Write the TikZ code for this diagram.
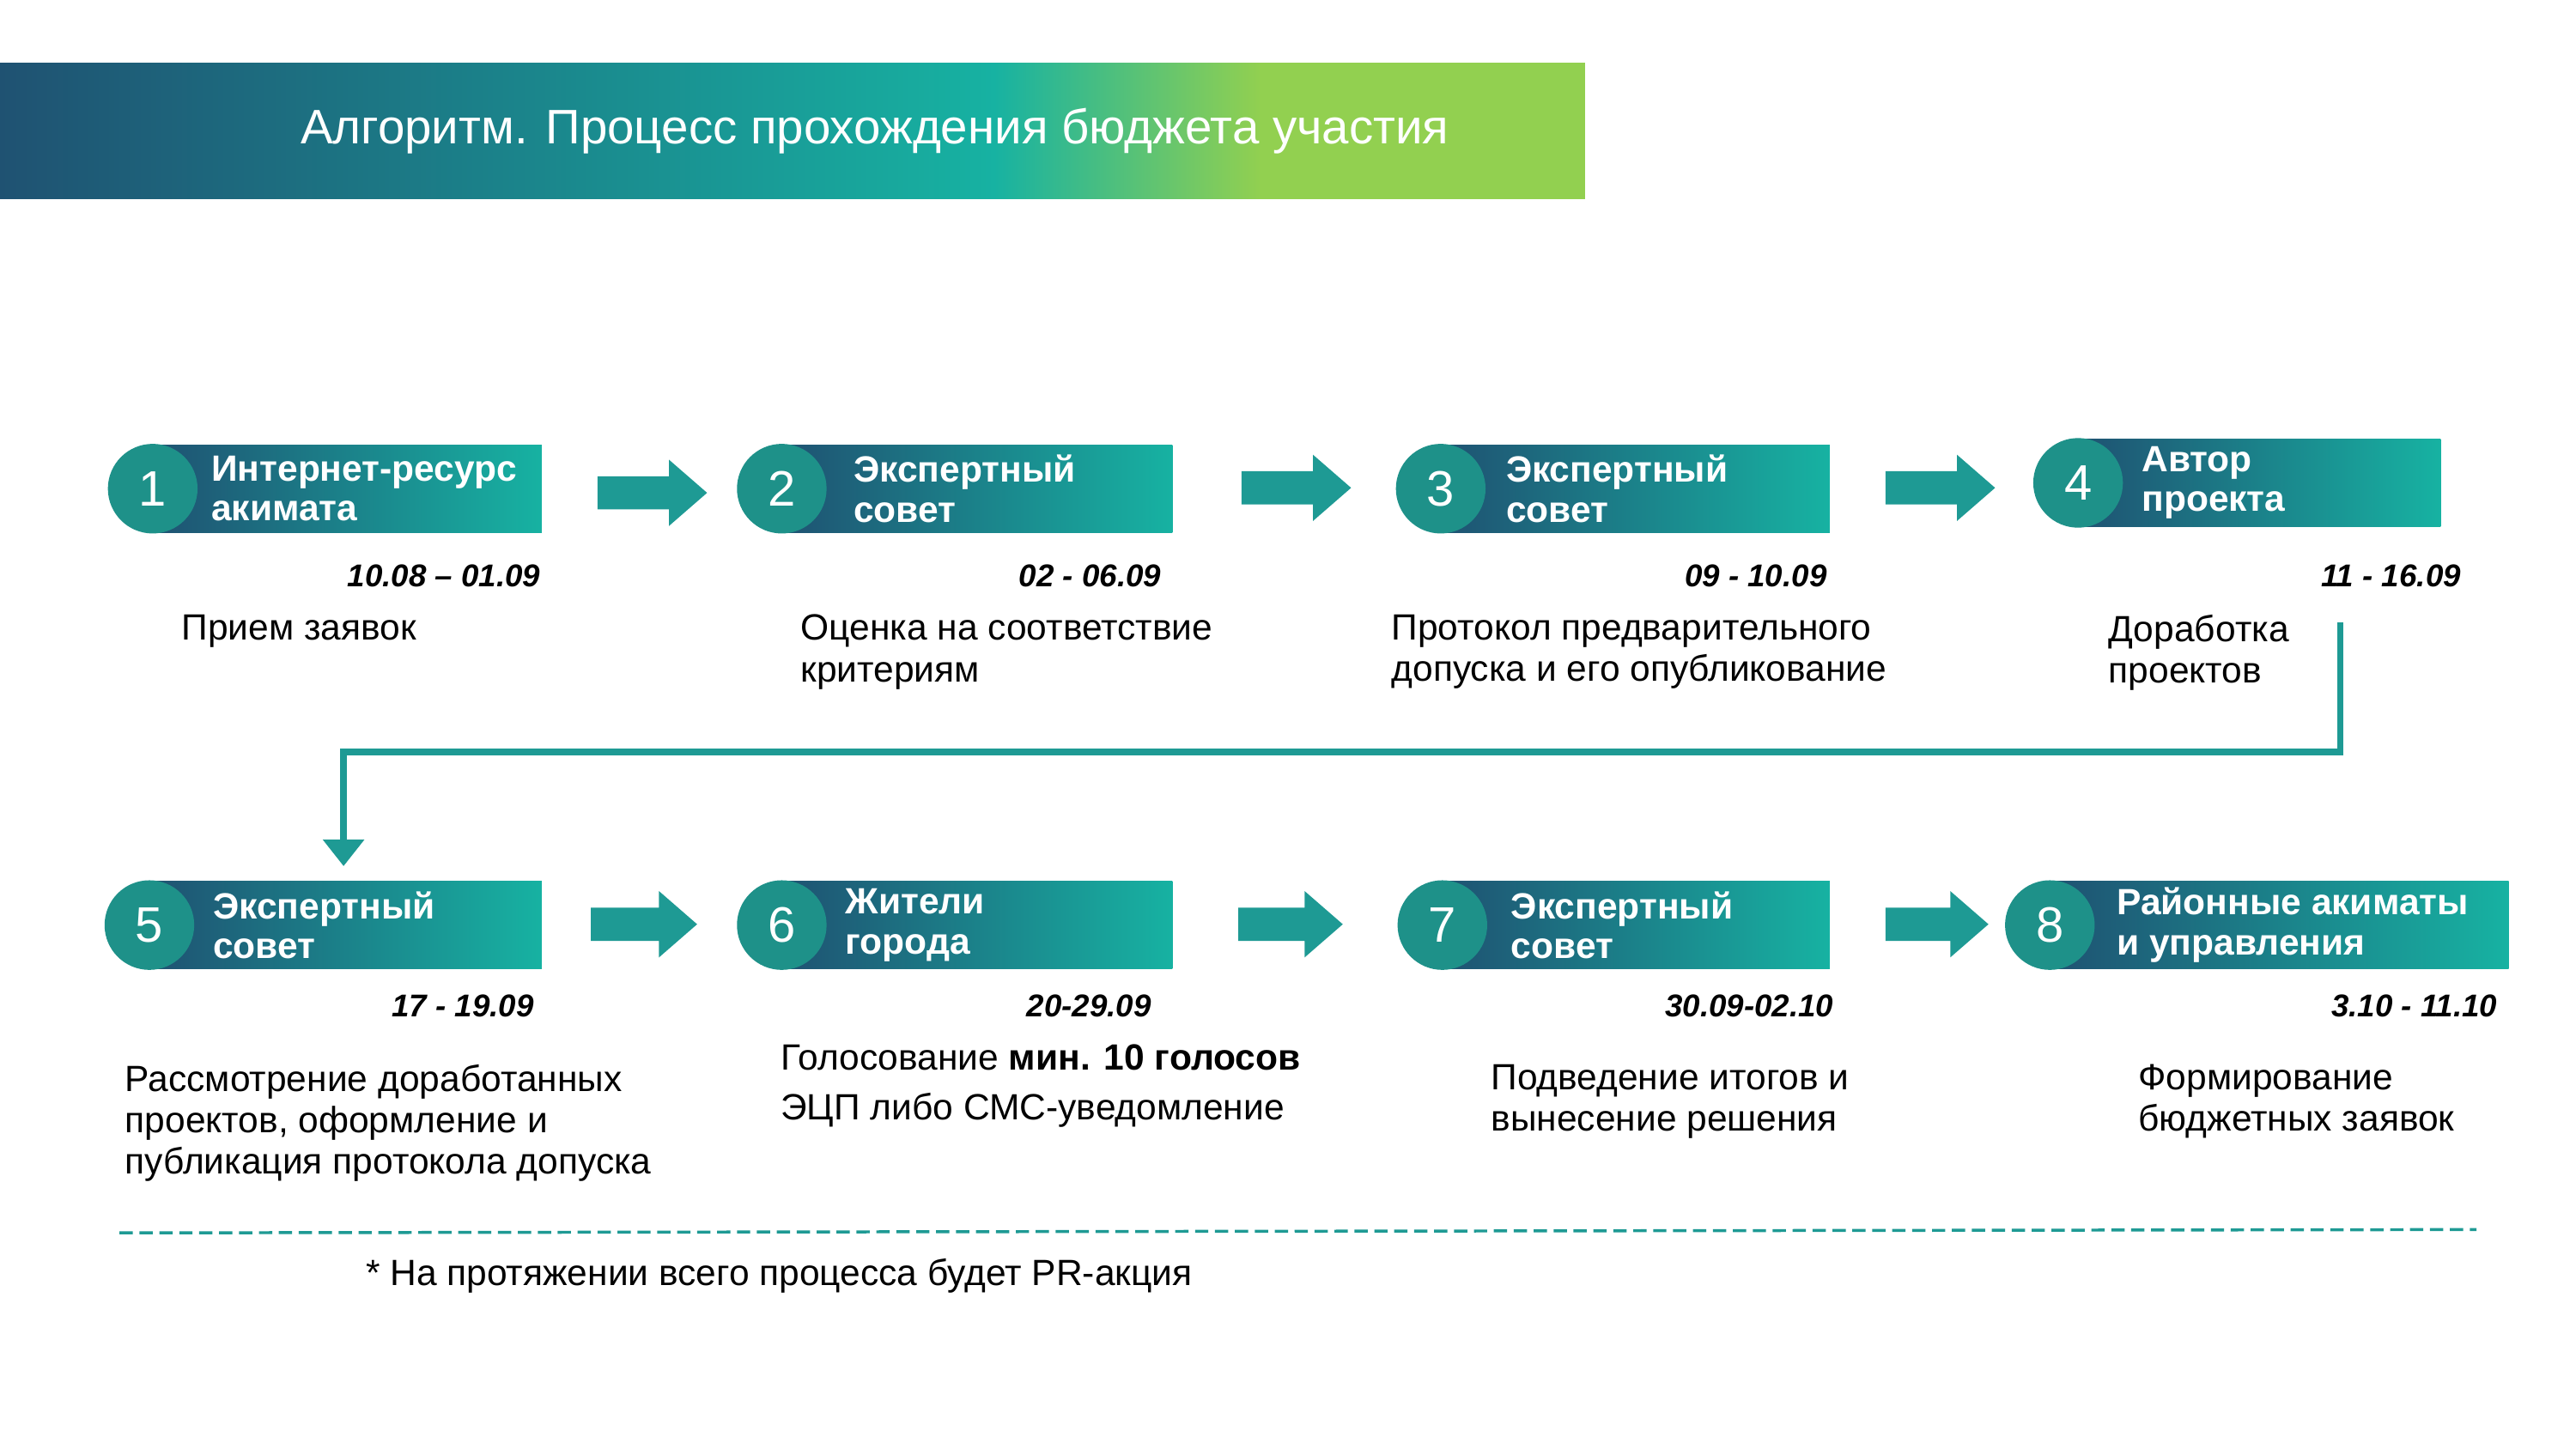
\documentclass[tikz,border=0pt]{standalone}
\usepackage{fontspec}
\setmainfont{Liberation Sans}
\usetikzlibrary{arrows.meta}
\definecolor{dblue}{HTML}{1F5272}
\definecolor{tealc}{HTML}{17B2A2}
\definecolor{greenc}{HTML}{92D050}
\definecolor{circc}{HTML}{1E9189}
\definecolor{arrc}{HTML}{1E9A94}
\tikzset{
 bar/.style={minimum height=26.5pt,inner sep=0pt,left color=dblue,right color=tealc,anchor=west},
 num/.style={circle,fill=circc,minimum size=27pt,inner sep=0pt,text=white,font=\fontsize{15}{15}\selectfont},
 btxt/.style={anchor=west,text=white,font=\bfseries\fontsize{11}{12}\selectfont,align=left,inner sep=0pt},
 date/.style={anchor=east,font=\bfseries\itshape\fontsize{9.5}{10}\selectfont,inner sep=0pt},
 desc/.style={anchor=north west,font=\fontsize{11}{12.5}\selectfont,align=left,inner sep=0pt},
 barr/.style={fill=arrc}
}
\begin{document}
\begin{tikzpicture}[x=0.5pt,y=-0.5pt]
\useasboundingbox (0,0) rectangle (1552,873);
% banner
\shade[left color=dblue,right color=tealc] (0,38) rectangle (600,120);
\shade[left color=tealc,right color=greenc] (599,38) rectangle (760,120);
\fill[greenc] (759,38) rectangle (955,120);
\node[text=white,font=\fontsize{14.6}{15}\selectfont] (title) at (527,79) {Алгоритм. Процесс прохождения бюджета участия};
\foreach \i/\cx/\re/\tx/\y/\t in {
 1/92/326/127/294.5/{Интернет-ресурс\\акимата},
 2/471/706/514/294.5/{Экспертный\\совет},
 3/868/1102/907/294.5/{Экспертный\\совет},
 4/1252/1470/1290/291/{Автор\\проекта},
 5/90/326/128/557.5/{Экспертный\\совет},
 6/471/706/509/557.5/{Жители\\города},
 7/869/1102/910/557.5/{Экспертный\\совет},
 8/1235/1511/1275/557.5/{Районные акиматы\\и управления}}{
 \pgfmathsetmacro\w{(\re-\cx)*0.5}
 \node[bar,minimum width=\w pt] (bar\i) at (\cx,\y) {};
 \node[num] (c\i) at (\cx,\y) {\i};
 \node[btxt] (t\i) at (\tx,\y) {\t};
}
% block arrows
\foreach \a/\b/\y in {360/426/297,748/814/294,1136/1202/294,356/420/557,746/809/557,1136/1198/557}{
 \fill[barr] (\a,\y-10) -- (\b-23,\y-10) -- (\b-23,\y-20) -- (\b,\y) -- (\b-23,\y+20) -- (\b-23,\y+10) -- (\a,\y+10) -- cycle;
}
% dates
\node[date] (d1) at (326,347) {10.08 – 01.09};
\node[date] (d2) at (700,347) {02 - 06.09};
\node[date] (d3) at (1101,347) {09 - 10.09};
\node[date] (d4) at (1483,347) {11 - 16.09};
\node[date] (d5) at (322,606) {17 - 19.09};
\node[date] (d6) at (694,606) {20-29.09};
\node[date] (d7) at (1105,606) {30.09-02.10};
\node[date] (d8) at (1505,606) {3.10 - 11.10};
% descriptions
\node[desc] (e1) at (109,370) {Прием заявок};
\node[desc] (e2) at (482,370) {Оценка на соответствие\\критериям};
\node[desc] (e3) at (838,370) {Протокол предварительного\\допуска и его опубликование};
\node[desc] (e4) at (1270,370) {Доработка\\проектов};
\node[desc] (e5) at (75,641) {Рассмотрение доработанных\\проектов, оформление и\\публикация протокола допуска};
\node[desc,font=\fontsize{11}{15}\selectfont] (e6) at (470,629) {Голосование \textbf{мин. 10 голосов}\\ЭЦП либо СМС-уведомление};
\node[desc] (e7) at (898,641) {Подведение итогов и\\вынесение решения};
\node[desc] (e8) at (1288,641) {Формирование\\бюджетных заявок};
% connector
\coordinate (s) at (1410,375);
\coordinate (e) at (207,522);
\draw[arrc,line width=2pt,-{Triangle[width=12pt,length=8pt]}] (s) |- (1000,453) -| (e);
% dashed
\coordinate (l1) at (72,743);
\coordinate (l2) at (1492,741);
\draw[arrc,line width=0.9pt,dash pattern=on 4pt off 2pt] (l1) -- (l2);
\node[anchor=west,font=\fontsize{11}{12}\selectfont,inner sep=0pt] (fn) at (220,769) {* На протяжении всего процесса будет PR-акция};
\end{tikzpicture}
\end{document}
